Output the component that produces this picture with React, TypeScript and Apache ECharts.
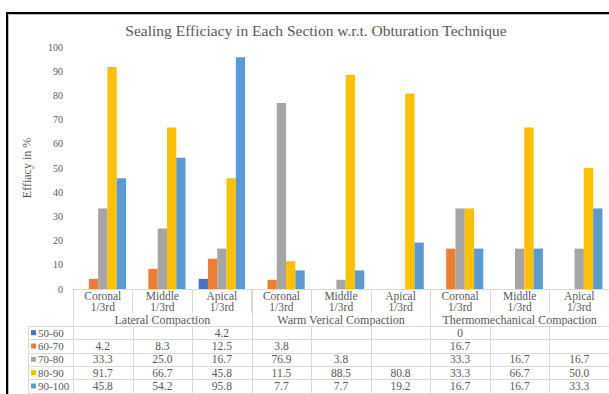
import React, { useEffect, useRef } from 'react';
import * as echarts from 'echarts';

const categories = [
  'Coronal\n1/3rd', 'Middle\n1/3rd', 'Apical\n1/3rd',
  'Coronal\n1/3rd', 'Middle\n1/3rd', 'Apical\n1/3rd',
  'Coronal\n1/3rd', 'Middle\n1/3rd', 'Apical\n1/3rd',
];
const groups = ['Lateral Compaction', 'Warm Verical Compaction', 'Thermomechanical Compaction'];
const seriesNames = ['50-60', '60-70', '70-80', '80-90', '90-100'];
const s50_60 = [null, null, 4.2, null, null, null, 0, null, null];
const s60_70 = [4.2, 8.3, 12.5, 3.8, null, null, 16.7, null, null];
const s70_80 = [33.3, 25.0, 16.7, 76.9, 3.8, null, 33.3, 16.7, 16.7];
const s80_90 = [91.7, 66.7, 45.8, 11.5, 88.5, 80.8, 33.3, 66.7, 50.0];
const s90_100 = [45.8, 54.2, 95.8, 7.7, 7.7, 19.2, 16.7, 16.7, 33.3];
const seriesData = [s50_60, s60_70, s70_80, s80_90, s90_100];
const colors = ['#4472C4', '#ED7D31', '#A5A5A5', '#FFC000', '#5B9BD5'];
const title = 'Sealing Efficiacy in Each Section w.r.t. Obturation Technique';
const yName = 'Effiacy in %';

const fmt = (v: number | null) => (v === null ? '' : v === 0 ? '0' : v.toFixed(1));

export default function App() {
  const ref = useRef<HTMLDivElement>(null);
  useEffect(() => {
    const chart = echarts.init(ref.current as HTMLDivElement, null, { renderer: 'svg' });
    const W = 609, H = 394;
    const gl = 73, gr = 0, gt = 47, gb = 105;
    const cw = (W - gl - gr) / categories.length;
    const axisY = H - gb;
    const tableTop = 326;
    const rowH = 13.33;
    const tableLeft = 28;
    const tableBottom = tableTop + rowH * seriesNames.length;
    const serif = 'Liberation Serif';
    const txt = '#595959';
    const lineC = '#D9D9D9';

    const tstyle = (text: string, size: number, align: string, fam = serif) => ({
      text, fill: txt, fontSize: size, fontFamily: fam, textAlign: align, textVerticalAlign: 'middle',
    });

    const g: any[] = [];
    // frame
    g.push({ type: 'line', shape: { x1: 7, y1: 13, x2: W, y2: 13 }, style: { stroke: '#000', lineWidth: 2 } });
    g.push({ type: 'line', shape: { x1: 7, y1: 12, x2: 7, y2: H }, style: { stroke: '#000', lineWidth: 2 } });
    g.push({ type: 'line', shape: { x1: 8.5, y1: 14.5, x2: W, y2: 14.5 }, style: { stroke: '#bbb', lineWidth: 1 } });
    g.push({ type: 'line', shape: { x1: 8.5, y1: 14.5, x2: 8.5, y2: H }, style: { stroke: '#bbb', lineWidth: 1 } });
    // title
    g.push({ type: 'text', x: 316, y: 30, style: tstyle(title, 15.5, 'center') });
    // group separators
    for (let i = 0; i <= groups.length; i++) {
      const x = Math.round(gl + i * 3 * cw) + 0.5;
      g.push({ type: 'line', shape: { x1: x, y1: axisY, x2: x, y2: tableBottom }, style: { stroke: lineC, lineWidth: 1 } });
    }
    // group labels
    groups.forEach((name, i) => {
      g.push({ type: 'text', x: gl + (i * 3 + 1.5) * cw, y: 320, style: tstyle(name, 12, 'center') });
    });
    // table lines
    for (let r = 0; r <= seriesNames.length; r++) {
      const y = Math.round(tableTop + r * rowH) + 0.5;
      g.push({ type: 'line', shape: { x1: tableLeft, y1: y, x2: W, y2: y }, style: { stroke: lineC, lineWidth: 1 } });
    }
    g.push({ type: 'line', shape: { x1: tableLeft + 0.5, y1: tableTop, x2: tableLeft + 0.5, y2: tableBottom }, style: { stroke: lineC, lineWidth: 1 } });
    for (let c = 0; c <= categories.length; c++) {
      const x = Math.round(gl + c * cw) + 0.5;
      g.push({ type: 'line', shape: { x1: x, y1: tableTop, x2: x, y2: tableBottom }, style: { stroke: lineC, lineWidth: 1 } });
    }
    // table content
    seriesNames.forEach((name, r) => {
      const cy = tableTop + (r + 0.5) * rowH;
      g.push({ type: 'rect', shape: { x: 31, y: cy - 2.5, width: 5, height: 5 }, style: { fill: colors[r] } });
      g.push({ type: 'text', x: 38, y: cy, style: tstyle(name, 11, 'left') });
      seriesData[r].forEach((v, c) => {
        const s = fmt(v as number | null);
        if (s) {
          g.push({ type: 'text', x: gl + (c + 0.5) * cw, y: cy, style: tstyle(s, 11.5, 'center') });
        }
      });
    });

    chart.setOption({
      animation: false,
      backgroundColor: '#fff',
      textStyle: { fontFamily: serif },
      grid: { left: gl, right: gr, top: gt, bottom: gb, containLabel: false },
      xAxis: {
        type: 'category',
        data: categories,
        axisLine: { show: true, lineStyle: { color: lineC } },
        axisTick: { show: true, interval: 0, length: 24, lineStyle: { color: lineC } },
        axisLabel: { interval: 0, color: txt, fontFamily: serif, fontSize: 11.5, lineHeight: 11, margin: 1 },
        splitLine: { show: false },
      },
      yAxis: {
        type: 'value',
        min: 0,
        max: 100,
        interval: 10,
        name: yName,
        nameLocation: 'middle',
        nameGap: 40,
        nameTextStyle: { color: txt, fontFamily: serif, fontSize: 12 },
        axisLine: { show: false },
        axisTick: { show: false },
        axisLabel: { color: txt, fontFamily: serif, fontSize: 10, margin: 10 },
        splitLine: { show: false },
      },
      series: seriesNames.map((name, i) => ({
        name,
        type: 'bar',
        data: seriesData[i],
        barGap: '0%',
        barCategoryGap: '22%',
        itemStyle: { color: colors[i] },
      })),
      graphic: g,
    });
    return () => chart.dispose();
  }, []);
  return <div ref={ref} style={{ position: 'fixed', left: 0, top: 0, width: 609, height: 394 }} />;
}
